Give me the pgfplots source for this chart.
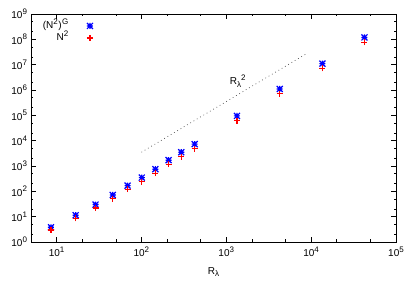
\documentclass[border=0pt]{standalone}
\usepackage{fontspec}
\setmainfont{Liberation Sans}
\usepackage{pgfplots}
\pgfplotsset{compat=1.18}

% gnuplot-like "*" point: plus and cross together
\pgfdeclareplotmark{plusx}{%
  \pgfpathmoveto{\pgfqpoint{-\pgfplotmarksize}{0pt}}\pgfpathlineto{\pgfqpoint{\pgfplotmarksize}{0pt}}%
  \pgfpathmoveto{\pgfqpoint{0pt}{-\pgfplotmarksize}}\pgfpathlineto{\pgfqpoint{0pt}{\pgfplotmarksize}}%
  \pgfpathmoveto{\pgfqpoint{-\pgfplotmarksize}{-\pgfplotmarksize}}\pgfpathlineto{\pgfqpoint{\pgfplotmarksize}{\pgfplotmarksize}}%
  \pgfpathmoveto{\pgfqpoint{-\pgfplotmarksize}{\pgfplotmarksize}}\pgfpathlineto{\pgfqpoint{\pgfplotmarksize}{-\pgfplotmarksize}}%
  \pgfusepathqstroke}
% gnuplot-like "+" point
\pgfdeclareplotmark{gplus}{%
  \pgfpathmoveto{\pgfqpoint{-\pgfplotmarksize}{0pt}}\pgfpathlineto{\pgfqpoint{\pgfplotmarksize}{0pt}}%
  \pgfpathmoveto{\pgfqpoint{0pt}{-\pgfplotmarksize}}\pgfpathlineto{\pgfqpoint{0pt}{\pgfplotmarksize}}%
  \pgfusepathqstroke}

\definecolor{gblue}{RGB}{0,0,255}
\definecolor{gred}{RGB}{255,0,0}

\newcommand{\gsup}[1]{\raisebox{0.42em}{\fontsize{8}{9}\selectfont #1}}
\newcommand{\gsub}[1]{\raisebox{-0.25em}{\fontsize{8}{9}\selectfont #1}}
\newcommand{\tl}[1]{10\gsup{#1}}

\begin{document}
\begin{tikzpicture}
\begin{axis}[
    scale only axis,
    width=365pt, height=228pt,
    xmode=log, ymode=log,
    xmin=5, xmax=1e5,
    ymin=1, ymax=1e9,
    xtick={10,100,1000,10000,100000},
    xticklabels={\tl{1},\tl{2},\tl{3},\tl{4},\tl{5}},
    ytick={1,10,100,1e3,1e4,1e5,1e6,1e7,1e8,1e9},
    yticklabels={\tl{0},\tl{1},\tl{2},\tl{3},\tl{4},\tl{5},\tl{6},\tl{7},\tl{8},\tl{9}},
    minor xtick={20,50,200,500,2000,5000,20000,50000},
    minor ytick={2,5,20,50,200,500,2e3,5e3,2e4,5e4,2e5,5e5,2e6,5e6,2e7,5e7,2e8,5e8},
    tick align=inside,
    major tick length=5pt,
    minor tick length=2.5pt,
    tick style={black, line width=0.6pt},
    axis line style={line width=0.8pt},
    tick label style={font=\fontsize{10}{11}\selectfont},
    xticklabel style={yshift=-1pt},
    yticklabel style={xshift=-0.5pt},
    xlabel={R\gsub{λ}},
    xlabel style={font=\fontsize{10}{11}\selectfont, yshift=-4pt},
    legend plot pos=right,
    legend cell align=right,
    legend image code/.code={\path (0pt,0pt) (20pt,0pt); \draw[#1] plot coordinates {(20pt,0pt)};},
    legend style={draw=none, fill=none, at={(rel axis cs:0.173,0.977)}, anchor=north east,
        font=\fontsize{10}{11}\selectfont, inner sep=1pt, row sep=1pt,
        nodes={inner sep=1pt, text height=7.5pt, text depth=1.5pt}},
]
\coordinate (sw) at (rel axis cs:0,0);
\coordinate (ne) at (rel axis cs:1,1);

\addplot[only marks, color=gblue, mark=plusx, mark size=3pt, line width=1.2pt,
    mark options={draw=gblue}] coordinates {
    (8.6,3.8) (16.8,11.4) (28.8,30) (46,72) (68.7,168) (101,348)
    (146,750) (209,1700) (295,3500) (424,7300)
    (1336,9.5e4) (4265,1.1e6) (13580,1.1e7) (42500,1.19e8)
};
\addlegendentry{(N\gsup{2}\kern0.5pt)\kern0.5pt\gsup{G}}

\addplot[only marks, color=gred, mark=gplus, mark size=3pt, line width=1.2pt,
    mark options={draw=gred}] coordinates {
    (8.6,3.0) (16.8,8.6) (28.8,22) (46,52) (68.7,121) (101,240)
    (146,520) (209,1180) (295,2350) (424,4740)
    (1336,6.2e4) (4265,7.1e5) (13580,7.1e6) (42500,7.5e7)
};
\addlegendentry{N\gsup{2}}

\addplot[black!75, line width=0.6pt, dash pattern=on 0.8pt off 3pt, forget plot] coordinates {
    (100,3500) (8570,2.57e7)
};

\node[anchor=base west, font=\fontsize{10}{11}\selectfont] at (axis cs:1000,1.6e6) {R\gsub{λ}\gsup{2}};
\end{axis}
\pgfresetboundingbox
\path (sw) ++(-31pt,-49pt) coordinate (bl);
\path (ne) ++(19pt,14pt) coordinate (tr);
\useasboundingbox (bl) rectangle (tr);
\end{tikzpicture}
\end{document}
